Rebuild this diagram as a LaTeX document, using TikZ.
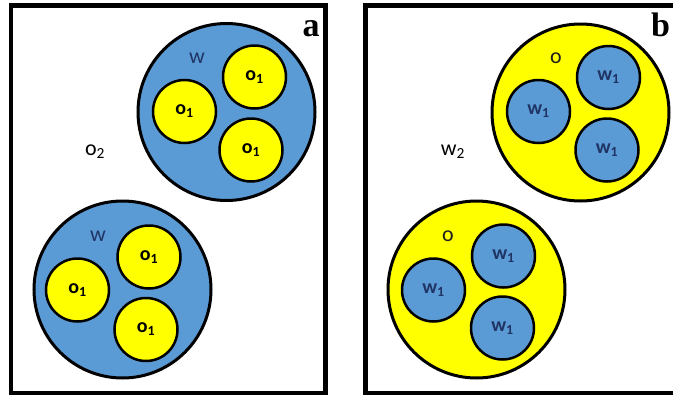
\documentclass[tikz,border=0pt]{standalone}
\usepackage{fontspec}
\setmainfont{Carlito}
\newfontfamily\letterfont{Liberation Serif}
\usepackage{tikz}
\definecolor{waterblue}{RGB}{91,155,213}
\definecolor{oilyellow}{RGB}{255,255,0}
\definecolor{navytext}{RGB}{31,52,100}
\definecolor{darktext}{RGB}{30,30,30}

\begin{document}
\begin{tikzpicture}[x=1pt, y=-1pt,
  frame/.style={line width=4.5pt},
  drop/.style={circle, draw=black, line width=3pt, minimum size=177pt, inner sep=0pt},
  cell/.style={circle, draw=black, line width=2.5pt, minimum size=63pt, inner sep=0pt,
    font=\fontsize{20}{20}\selectfont\bfseries},
  tag/.style={font=\fontsize{22}{22}\selectfont, inner sep=0pt},
  panellbl/.style={font=\fontsize{34}{34}\selectfont\letterfont\bfseries, inner sep=0pt}
]
  \clip (0,0) rectangle (673,397);
  \fill[white] (0,0) rectangle (673,397);

  % Panel frames
  \draw[frame] (11,5.5) rectangle (325.5,393);
  \draw[frame] (365.5,5.5) rectangle (700,393);
  \node[panellbl, anchor=base] (lbla) at (311,36) {a};
  \node[panellbl, anchor=base west] (lblb) at (651,36) {b};

  % Panel a: water drops holding oil
  \node[drop, fill=waterblue] (atop) at (226.5,112) {};
  \node[cell, fill=oilyellow] (atop1) at (254.5,77) {o\textsubscript{1}};
  \node[cell, fill=oilyellow] (atop2) at (184.5,111.5) {o\textsubscript{1}};
  \node[cell, fill=oilyellow] (atop3) at (251,150) {o\textsubscript{1}};
  \node[tag, navytext] (atopw) at (197,58) {w};

  \node[drop, fill=waterblue] (abot) at (122.5,289.5) {};
  \node[cell, fill=oilyellow] (abot1) at (149,257) {o\textsubscript{1}};
  \node[cell, fill=oilyellow] (abot2) at (77.5,290) {o\textsubscript{1}};
  \node[cell, fill=oilyellow] (abot3) at (146,329.5) {o\textsubscript{1}};
  \node[tag, navytext] (abotw) at (98,236) {w};

  \node[tag] (ao2) at (95,152) {o\textsubscript{2}};

  % Panel b: oil drops holding water
  \node[drop, fill=oilyellow] (btop) at (580.5,112.5) {};
  \node[cell, fill=waterblue, text=navytext] (btop1) at (608.5,77.5) {w\textsubscript{1}};
  \node[cell, fill=waterblue, text=navytext] (btop2) at (538.5,111.5) {w\textsubscript{1}};
  \node[cell, fill=waterblue, text=navytext] (btop3) at (607,150) {w\textsubscript{1}};
  \node[tag, darktext] (btopo) at (556,58) {o};

  \node[drop, fill=oilyellow] (bbot) at (476.5,289.5) {};
  \node[cell, fill=waterblue, text=navytext] (bbot1) at (503.5,256) {w\textsubscript{1}};
  \node[cell, fill=waterblue, text=navytext] (bbot2) at (433.5,290) {w\textsubscript{1}};
  \node[cell, fill=waterblue, text=navytext] (bbot3) at (502.5,328) {w\textsubscript{1}};
  \node[tag, darktext] (bboto) at (448,236) {o};

  \node[tag] (bw2) at (453,152) {w\textsubscript{2}};
\end{tikzpicture}
\end{document}
